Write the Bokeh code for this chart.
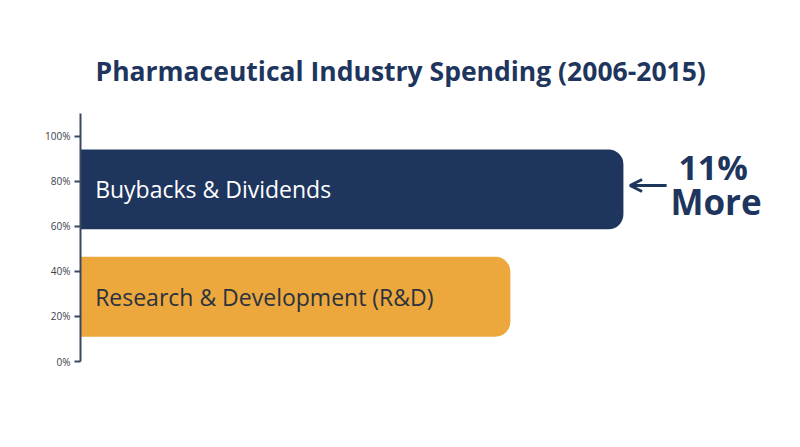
from bokeh.plotting import figure
from bokeh.models import Range1d, FixedTicker, Label, Arrow, OpenHead, ColumnDataSource, CustomJSTickFormatter
from bokeh.embed import file_html
from bokeh.resources import INLINE

# Data
categories = ["Buybacks & Dividends", "Research & Development (R&D)"]
spending = [516, 465]          # billions USD, 2006-2015
bar_pos = [76.5, 28.8]         # position on the % axis
bar_colors = ["#1e355e", "#eca83d"]
text_colors = ["#ffffff", "#2b3240"]
y_ticks = [0, 20, 40, 60, 80, 100]
note_lines = ["11%", "More"]
title_text = "Pharmaceutical Industry Spending (2006-2015)"

NAVY = "#1e355e"
FONT = "Open Sans"

W, H = 792, 439
p = figure(width=W, height=H, output_backend="svg", toolbar_location=None,
           x_range=Range1d(271, 592.3), y_range=Range1d(0, 110.2),
           min_border_left=80, min_border_right=0, min_border_top=113, min_border_bottom=78,
           title=title_text)
p.outline_line_color = None
p.grid.visible = False
p.xaxis.visible = False
p.background_fill_color = "white"
p.border_fill_color = "white"

p.title.align = "left"
p.title.offset = 15
p.title.standoff = 49
p.title.text_font = FONT
p.title.text_font_size = "26.5px"
p.title.text_font_style = "bold"
p.title.text_color = NAVY

src = ColumnDataSource(dict(y=bar_pos, right=spending, color=bar_colors, name=categories))
p.hbar(y="y", left=271, right="right", height=35.5, color="color", source=src,
       border_radius=(0, 15, 15, 0), line_color=None)

ax = p.yaxis[0]
ax.ticker = FixedTicker(ticks=y_ticks)
ax.formatter = CustomJSTickFormatter(code="return tick.toFixed(0) + '%'")
ax.axis_line_color = "#3b4660"
ax.axis_line_width = 2
ax.major_tick_line_color = "#3b4660"
ax.major_tick_line_width = 2
ax.major_tick_out = 6
ax.major_tick_in = 0
ax.minor_tick_line_color = None
ax.major_label_text_font = FONT
ax.major_label_text_font_size = "10px"
ax.major_label_text_color = "#3a3d4a"
ax.major_label_standoff = 4

for name, y, c in zip(categories, bar_pos, text_colors):
    p.add_layout(Label(x=277.6, y=y, text=name, text_color=c, text_font=FONT,
                       text_font_size="23px", text_baseline="middle", text_align="left"))

p.add_layout(Label(x=556.5, y=86.3, text=note_lines[0], text_color=NAVY, text_font=FONT,
                   text_font_size="34px", text_font_style="bold",
                   text_baseline="middle", text_align="center"))
p.add_layout(Label(x=557.8, y=71.3, text=note_lines[1], text_color=NAVY, text_font=FONT,
                   text_font_size="35px", text_font_style="bold",
                   text_baseline="middle", text_align="center"))

p.add_layout(Arrow(x_start=535.5, y_start=78.2, x_end=519, y_end=78.2,
                   line_color=NAVY, line_width=3,
                   end=OpenHead(size=12, line_color=NAVY, line_width=3)))

open("out.html", "w").write(file_html(p, INLINE))
